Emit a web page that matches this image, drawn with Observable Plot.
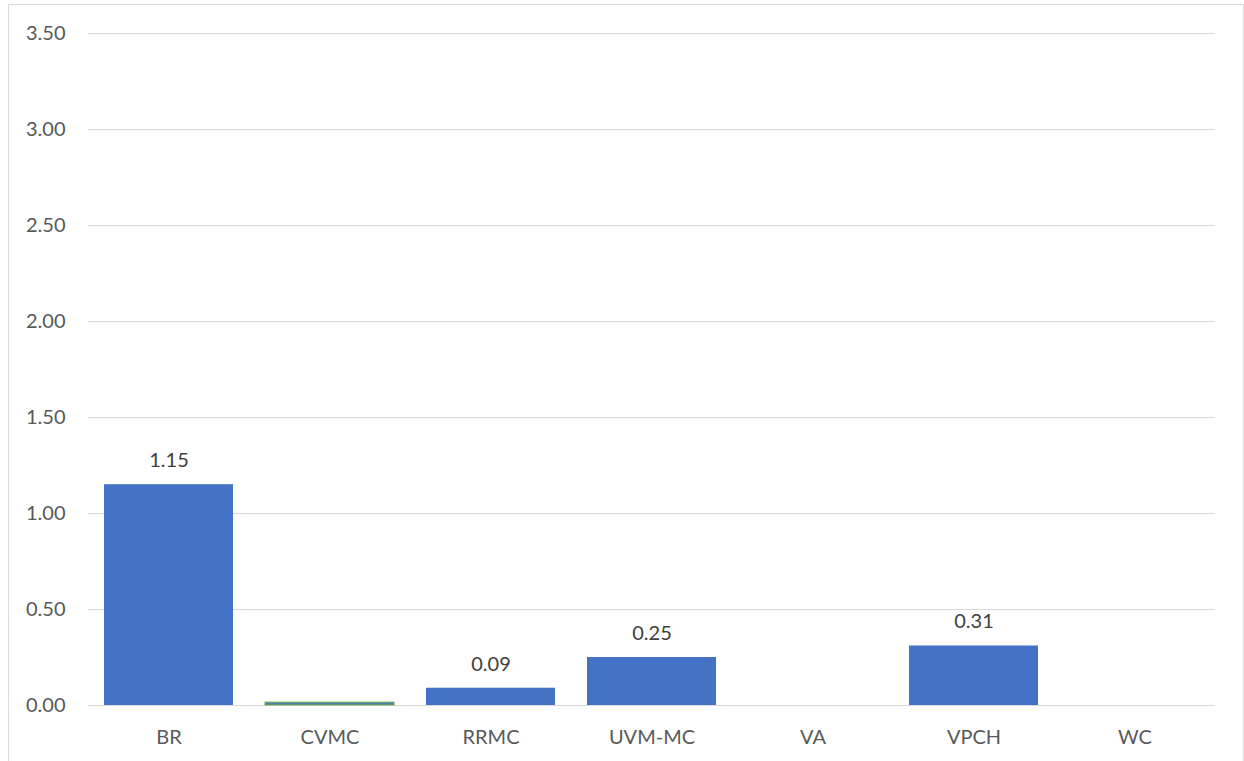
<!DOCTYPE html>
<html>
<head>
<meta charset="utf-8">
<script src="https://cdn.jsdelivr.net/npm/d3@7"></script>
<script src="https://cdn.jsdelivr.net/npm/@observablehq/plot@0.6"></script>
<style>
  html, body { margin: 0; padding: 0; background: #fff; overflow: hidden; }
  #frame { position: absolute; left: 8px; top: 4px; width: 1236px; height: 800px; border: 1px solid #d9d9d9; box-sizing: border-box; }
  #chart { position: absolute; left: 0; top: 0; }
</style>
</head>
<body>
<div id="frame"></div>
<div id="chart"></div>
<script>
const categories = ["BR", "CVMC", "RRMC", "UVM-MC", "VA", "VPCH", "WC"];
const values = [1.15, 0.015, 0.09, 0.25, 0, 0.31, 0];
const showLabel = [true, false, true, true, false, true, false];
const barColors = ["#4472C4", "#70AD47", "#4472C4", "#4472C4", "#4472C4", "#4472C4", "#4472C4"];
const yTicks = [0, 0.5, 1, 1.5, 2, 2.5, 3, 3.5];

const data = categories.map((c, i) => ({cat: c, value: values[i], label: showLabel[i], color: barColors[i]}));

const font = "Lato, 'Open Sans', sans-serif";
const chart = Plot.plot({
  width: 1244,
  height: 761,
  marginLeft: 88,
  marginRight: 29,
  marginTop: 33,
  marginBottom: 56,
  style: {fontFamily: font, background: "transparent"},
  x: {domain: categories, paddingInner: 0.2, paddingOuter: 0.1, label: null},
  y: {domain: [0, 3.5], label: null},
  marks: [
    Plot.ruleY(yTicks, {y: d => d, stroke: "#d9d9d9", strokeWidth: 1}),
    Plot.barY(data.filter(d => d.value > 0), {x: "cat", y: "value", fill: d => d.color === "#70AD47" ? "#4a7fb0" : d.color, stroke: d => d.color === "#70AD47" ? "#70AD47" : "none", strokeWidth: 1}),
    Plot.text(data.filter(d => d.label), {x: "cat", y: "value", text: d => d.value.toFixed(2), dy: -24, fill: "#404040", fontSize: 20}),
    Plot.axisY({ticks: yTicks, tickFormat: d => d.toFixed(2), tickSize: 0, tickPadding: 23, fontSize: 20, color: "#595959", label: null}),
    Plot.axisX({tickSize: 0, tickPadding: 24, fontSize: 20, color: "#595959", label: null})
  ]
});
document.getElementById("chart").appendChild(chart);
</script>
</body>
</html>
